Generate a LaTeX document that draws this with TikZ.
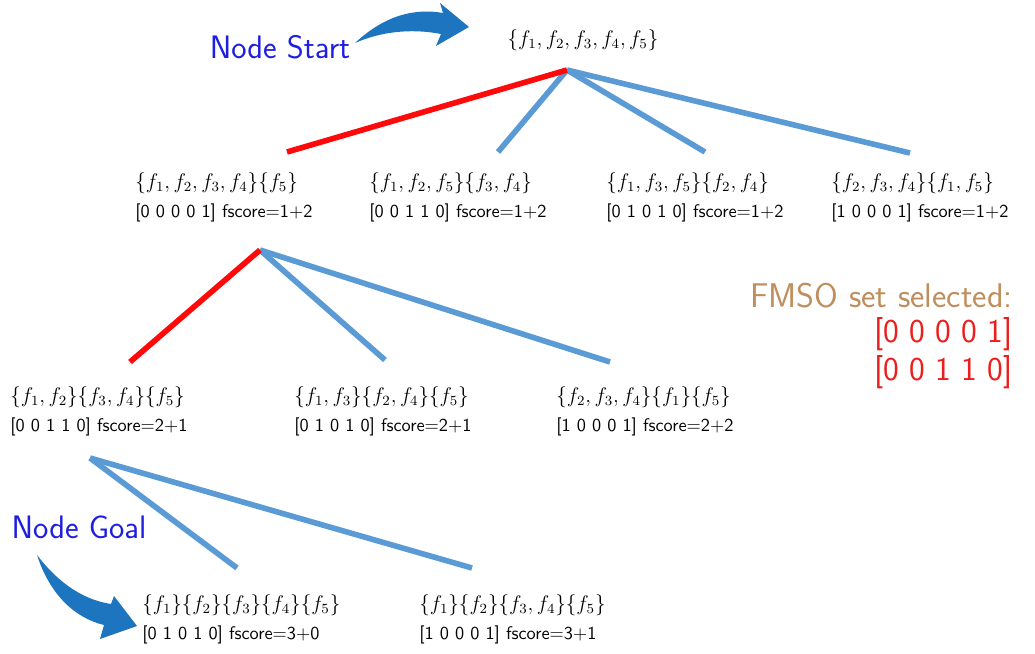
\documentclass[tikz,border=0pt]{standalone}
\usepackage{amsmath}
\usepackage{tikz}
\usetikzlibrary{positioning}

\definecolor{linkblue}{RGB}{91,155,213}
\definecolor{linkred}{RGB}{255,10,10}
\definecolor{arrowblue}{RGB}{28,117,190}
\definecolor{labelblue}{RGB}{30,30,225}
\definecolor{fmsobrown}{RGB}{192,142,92}
\definecolor{fmsored}{RGB}{235,30,30}

\begin{document}
\begin{tikzpicture}
  [
    x = 0.02cm, y = -0.02cm,
    state/.style = {anchor = north west, align = left, inner sep = 0pt,
                    font = \sffamily\fontsize{10.4}{12.5}\selectfont},
    link/.style = {line width = 3.2pt, draw = linkblue},
    picked/.style = {link, draw = linkred},
    label/.style = {font = \sffamily\fontsize{18.5}{22}\selectfont, text = labelblue, inner sep = 0pt},
    fmso/.style = {font = \sffamily\fontsize{19.5}{23}\selectfont, inner sep = 0pt, anchor = base east},
    bigarrow/.style = {fill = arrowblue, draw = none},
  ]
  \useasboundingbox (0,0) rectangle (1035,653);

  % root of the search
  \node[inner sep = 0pt, font = \large] (root) at (583,40) {$\{f_1, f_2, f_3, f_4, f_5\}$};

  % first level
  \node[state] (a1) at (135,172) {{\large$\{f_1, f_2, f_3, f_4\}\{f_5\}$}\\[4pt] {[0 0 0 0 1]} fscore=1+2};
  \node[state] (b1) at (369,172) {{\large$\{f_1, f_2, f_5\}\{f_3, f_4\}$}\\[4pt] {[0 0 1 1 0]} fscore=1+2};
  \node[state] (c1) at (606,172) {{\large$\{f_1, f_3, f_5\}\{f_2, f_4\}$}\\[4pt] {[0 1 0 1 0]} fscore=1+2};
  \node[state] (d1) at (831,172) {{\large$\{f_2, f_3, f_4\}\{f_1, f_5\}$}\\[4pt] {[1 0 0 0 1]} fscore=1+2};

  % second level
  \node[state] (a2) at (10,386) {{\large$\{f_1, f_2\}\{f_3, f_4\}\{f_5\}$}\\[4pt] {[0 0 1 1 0]} fscore=2+1};
  \node[state] (b2) at (294,386) {{\large$\{f_1, f_3\}\{f_2, f_4\}\{f_5\}$}\\[4pt] {[0 1 0 1 0]} fscore=2+1};
  \node[state] (c2) at (556,386) {{\large$\{f_2, f_3, f_4\}\{f_1\}\{f_5\}$}\\[4pt] {[1 0 0 0 1]} fscore=2+2};

  % third level
  \node[state] (a3) at (142,594) {{\large$\{f_1\}\{f_2\}\{f_3\}\{f_4\}\{f_5\}$}\\[4pt] {[0 1 0 1 0]} fscore=3+0};
  \node[state] (b3) at (419,594) {{\large$\{f_1\}\{f_2\}\{f_3, f_4\}\{f_5\}$}\\[4pt] {[1 0 0 0 1]} fscore=3+1};

  % branch points
  \coordinate (root split) at (567,70);
  \coordinate (a1 split) at (260,250);
  \coordinate (a2 split) at (90,458);
  \coordinate (a1 in) at (287,152);
  \coordinate (b1 in) at (498,152);
  \coordinate (c1 in) at (705,152);
  \coordinate (d1 in) at (910,153);
  \coordinate (a2 in) at (130,362);
  \coordinate (b2 in) at (385,360);
  \coordinate (c2 in) at (610,362);
  \coordinate (a3 in) at (237,568);
  \coordinate (b3 in) at (472,568);

  \draw[link] (root split) -- (b1 in);
  \draw[link] (root split) -- (c1 in);
  \draw[link] (root split) -- (d1 in);
  \draw[picked] (root split) -- (a1 in);

  \draw[link] (a1 split) -- (b2 in);
  \draw[link] (a1 split) -- (c2 in);
  \draw[picked] (a1 split) -- (a2 in);

  \draw[link] (a2 split) -- (a3 in);
  \draw[link] (a2 split) -- (b3 in);

  % start and goal marks
  \node[label] (start) at (280,47) {Node Start};
  \node[label] (goal) at (79,527) {Node Goal};
  \fill[bigarrow] (355,43) .. controls (385,15) and (415,8) .. (443,13)
    -- (440,3) -- (469,27) -- (436,46) -- (441,34)
    .. controls (410,28) and (380,32) .. cycle;
  \fill[bigarrow] (37,555) .. controls (60,585) and (85,600) .. (111,604)
    -- (114,596) -- (137,626) -- (100,639) -- (104,625)
    .. controls (75,618) and (50,595) .. cycle;

  % selected set
  \node[fmso, text = fmsobrown] (fmso title) at (1013,307) {FMSO set selected:};
  \node[fmso, text = fmsored, font = \sffamily\fontsize{19}{23}\selectfont] (sel one) at (1013,342) {[0 0 0 0 1]};
  \node[fmso, text = fmsored, font = \sffamily\fontsize{19}{23}\selectfont] (sel two) at (1013,380) {[0 0 1 1 0]};
\end{tikzpicture}
\end{document}
